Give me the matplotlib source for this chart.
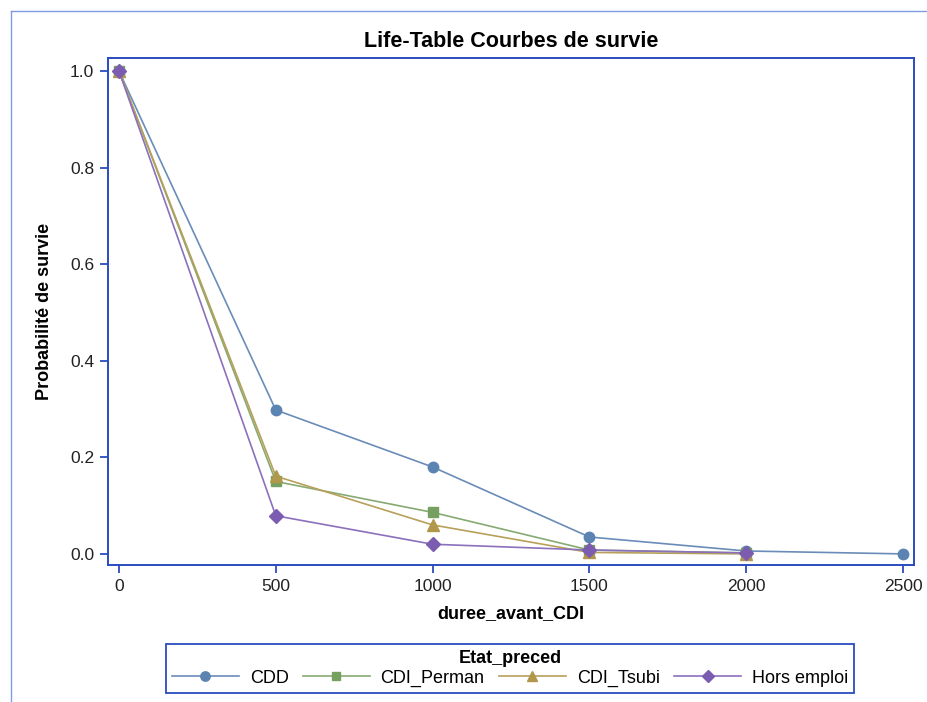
import matplotlib
matplotlib.use("Agg")
import matplotlib.pyplot as plt
from matplotlib.lines import Line2D

plt.rcParams["font.family"] = ["Liberation Sans", "DejaVu Sans"]

# Survival estimates
duree = [0, 500, 1000, 1500, 2000, 2500]
cdd = [1.0, 0.298, 0.180, 0.035, 0.006, 0.0]
duree_short = [0, 500, 1000, 1500, 2000]
cdi_perman = [1.0, 0.150, 0.086, 0.008, 0.002]
cdi_tsubi = [1.0, 0.161, 0.060, 0.003, 0.0]
hors_emploi = [1.0, 0.079, 0.020, 0.008, 0.002]

x_ticks = [0, 500, 1000, 1500, 2000, 2500]
y_ticks = [0.0, 0.2, 0.4, 0.6, 0.8, 1.0]

FRAME = "#2a4cbf"
series = [
    ("CDD", duree, cdd, "#6a8cb8", "#5b84b3", "o", 7.5),
    ("CDI_Perman", duree_short, cdi_perman, "#86aa72", "#76a05f", "s", 7),
    ("CDI_Tsubi", duree_short, cdi_tsubi, "#b8a05a", "#b0974c", "^", 8),
    ("Hors emploi", duree_short, hors_emploi, "#8b70bb", "#7c5cb0", "D", 7),
]

fig = plt.figure(figsize=(9.27, 7.02), dpi=100)
ax = fig.add_axes([108 / 927, 1 - 565 / 702, (914 - 108) / 927, (565 - 58) / 702])

for name, xs, ys, lc, mc, mk, ms in series:
    ax.plot(xs, ys, color=lc, linewidth=1.2, marker=mk, markersize=ms,
            markerfacecolor=mc, markeredgecolor=mc, label=name)

ax.set_xlim(-35, 2535)
ax.set_ylim(-0.023, 1.027)
ax.set_xticks(x_ticks)
ax.set_yticks(y_ticks)
ax.set_yticklabels([f"{v:.1f}" for v in y_ticks])
for sp in ax.spines.values():
    sp.set_color(FRAME)
    sp.set_linewidth(1.4)
ax.tick_params(colors=FRAME, labelcolor="#222222", labelsize=12.5,
               length=6, width=1.3, pad=4)

ax.set_xlabel("duree_avant_CDI", fontsize=13, fontweight="bold", labelpad=8)
ax.set_ylabel("Probabilité de survie", fontsize=13, fontweight="bold", labelpad=12)
ax.set_title("Life-Table Courbes de survie", fontsize=15.5, fontweight="bold", pad=8)

handles = [Line2D([], [], color=lc, linewidth=1.2, marker=mk, markersize=ms * 0.9,
                  markerfacecolor=mc, markeredgecolor=mc)
           for _, _, _, lc, mc, mk, ms in series]
labels = [s[0] for s in series]
leg = fig.legend(handles, labels, title="Etat_preced", ncol=4,
                 loc="center", bbox_to_anchor=(510 / 927, 1 - 668.5 / 702),
                 fontsize=13, title_fontproperties={"weight": "bold", "size": 13},
                 handlelength=3.7, columnspacing=0.8, handletextpad=0.6,
                 borderpad=0.32, labelspacing=0.15, borderaxespad=0,
                 fancybox=False, framealpha=1)
leg.get_frame().set_edgecolor(FRAME)
leg.get_frame().set_linewidth(1.3)

# light outer frame of the SAS graph region
fig.add_artist(Line2D([11 / 927, 1.0], [1 - 11 / 702, 1 - 11 / 702],
                      color="#7f9de2", linewidth=1.0, transform=fig.transFigure))
fig.add_artist(Line2D([11 / 927, 11 / 927], [1 - 11 / 702, 0.0],
                      color="#7f9de2", linewidth=1.0, transform=fig.transFigure))

fig.savefig("out.png", dpi=100)
